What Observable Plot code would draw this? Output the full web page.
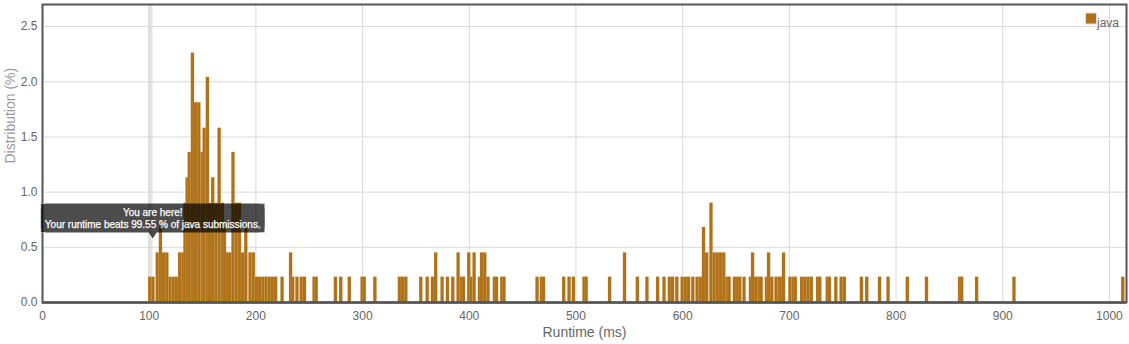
<!DOCTYPE html>
<html>
<head>
<meta charset="utf-8">
<script src="https://cdn.jsdelivr.net/npm/d3@7"></script>
<script src="https://cdn.jsdelivr.net/npm/@observablehq/plot@0.6"></script>
<style>
  html, body { margin: 0; padding: 0; background: #fff; }
  #chart { width: 1129px; height: 344px; }
</style>
</head>
<body>
<div id="chart"></div>
<script>
// ---- data ----
const runtimeMs = [
  101,104,108,111,114,117,120,123,126,129,132,134,136,138,141,144,147,150,152,155,
  157,160,163,166,169,171,174,176,179,182,185,188,191,195,198,201,204,207,210,213,
  216,219,225,233,235,239,243,246,255,257,275,280,288,300,302,312,335,338,341,355,
  361,366,369,375,380,385,390,393,395,400,402,405,410,412,415,418,424,426,431,433,
  464,468,470,489,494,498,508,510,532,546,558,567,577,583,588,591,595,600,603,606,
  610,614,617,620,623,627,630,633,636,639,642,644,649,652,654,658,664,666,669,672,
  674,679,681,684,688,691,693,695,701,704,706,712,715,718,721,727,729,736,738,744,
  749,752,768,773,785,793,811,829,860,862,876,911,1013
];
const distributionPct = [
  0.23,0.23,0.45,0.68,0.45,0.45,0.23,0.23,0.23,0.45,0.45,0.90,1.13,1.36,2.26,1.81,1.81,1.36,1.58,2.04,
  0.90,1.13,0.90,1.58,0.90,0.68,0.45,0.45,1.36,0.90,0.90,0.45,0.68,0.45,0.45,0.23,0.23,0.23,0.23,0.23,
  0.23,0.23,0.23,0.45,0.23,0.23,0.23,0.23,0.23,0.23,0.23,0.23,0.23,0.23,0.23,0.23,0.23,0.23,0.23,0.23,
  0.23,0.23,0.45,0.23,0.23,0.23,0.45,0.23,0.23,0.45,0.23,0.45,0.23,0.45,0.45,0.23,0.23,0.23,0.23,0.23,
  0.23,0.23,0.23,0.23,0.23,0.23,0.23,0.23,0.23,0.45,0.23,0.23,0.23,0.23,0.23,0.23,0.23,0.23,0.23,0.23,
  0.23,0.23,0.23,0.68,0.45,0.90,0.45,0.45,0.45,0.45,0.23,0.23,0.23,0.23,0.23,0.23,0.23,0.45,0.23,0.23,
  0.23,0.23,0.45,0.23,0.23,0.23,0.23,0.45,0.23,0.23,0.23,0.23,0.23,0.23,0.23,0.23,0.23,0.23,0.23,0.23,
  0.23,0.23,0.23,0.23,0.23,0.23,0.23,0.23,0.23,0.23,0.23,0.23,0.23
];
const xTicks = [0,100,200,300,400,500,600,700,800,900,1000];
const yTicks = [0,0.5,1,1.5,2,2.5];
const seriesName = "java";
const userRuntime = 101;
const userPct = 0.23;
const tipLines = ["You are here!", "Your runtime beats 99.55 % of java submissions."];
const xLabel = "Runtime (ms)";
const yLabel = "Distribution (%)";

if (runtimeMs.length !== distributionPct.length) console.error("length mismatch", runtimeMs.length, distributionPct.length);
const bars = runtimeMs.map((ms, i) => ({ms, pct: distributionPct[i]}));

const barColor = "#b07219";
const halfBar = 1.6;

function youAreHere(index, scales) {
  const cx = scales.x(userRuntime) + 3;
  const tipY = scales.y(userPct) - 38;
  const w = 224, h = 29, p = 6;
  const left = cx - w / 2, top = tipY - p - h;
  const g = d3.create("svg:g");
  g.append("path")
    .attr("d", `M${left},${top}h${w}v${h}H${cx + 4}l-4,${p}l-4,${-p}H${left}Z`)
    .attr("fill", "rgba(0,0,0,0.7)");
  g.append("path")
    .attr("d", `M${left},${top + 5}V${top}h5M${left},${top + h - 5}V${top + h}h5M${left + w},${top + 5}V${top}h-5M${left + w},${top + h - 5}V${top + h}h-5`)
    .attr("fill", "none").attr("stroke", "rgba(255,255,255,0.6)").attr("stroke-width", 0.8);
  tipLines.forEach((t, i) => {
    g.append("text")
      .attr("x", cx)
      .attr("y", top + 9 + i * 12)
      .attr("dy", "0.35em")
      .attr("text-anchor", "middle")
      .attr("fill", "#fff")
      .attr("stroke", "#fff")
      .attr("stroke-width", 0.25)
      .attr("font-size", 10)
      .text(t);
  });
  return g.node();
}

const chart = Plot.plot({
  width: 1129,
  height: 344,
  marginLeft: 42,
  marginRight: 3,
  marginTop: 4,
  marginBottom: 42,
  style: {fontFamily: "'Liberation Sans', Arial, sans-serif", fontSize: "12px", background: "#fff", color: "#666"},
  x: {domain: [0, 1016]},
  y: {domain: [0, 2.7]},
  marks: [
    Plot.ruleX([userRuntime], {x: d => d, stroke: "#e4e4e4", strokeWidth: 4.5}),
    Plot.gridY(yTicks.slice(1), {stroke: "#d9d9d9", strokeOpacity: 1}),
    Plot.gridX(xTicks.slice(1), {stroke: "#d9d9d9", strokeOpacity: 1}),
    Plot.rectY(bars, {
      x1: d => d.ms - halfBar,
      x2: d => d.ms + halfBar,
      y: "pct",
      fill: barColor,
      stroke: "#fff",
      strokeOpacity: 0.18,
      strokeWidth: 0.5
    }),
    Plot.axisY(yTicks, {tickSize: 0, tickPadding: 5, tickFormat: d3.format(".1f"), fontSize: 12, fill: "#666", label: null}),
    Plot.axisX(xTicks, {tickSize: 0, tickPadding: 9, tickFormat: d3.format("d"), fontSize: 12, fill: "#666", label: null}),
    Plot.frame({stroke: "#555", strokeWidth: 2}),
    Plot.ruleY([0], {stroke: "#555", strokeWidth: 2.5}),
    Plot.text([yLabel], {text: d => d, frameAnchor: "left", rotate: -90, dx: -31.5, dy: 10, fill: "#999", fontSize: 14}),
    Plot.text([xLabel], {text: d => d, frameAnchor: "bottom", dy: 34, fill: "#666", fontSize: 14}),
    Plot.dot([seriesName], {frameAnchor: "top-right", dx: -35.5, dy: 14, symbol: "square", r: 6.2, fill: barColor, stroke: "#ddd", strokeWidth: 1}),
    Plot.text([seriesName], {text: d => d, frameAnchor: "top-right", dx: -7.5, dy: 13.5, textAnchor: "end", fill: "#666", fontSize: 12}),
    youAreHere
  ]
});
document.getElementById("chart").appendChild(chart);
</script>
</body>
</html>
